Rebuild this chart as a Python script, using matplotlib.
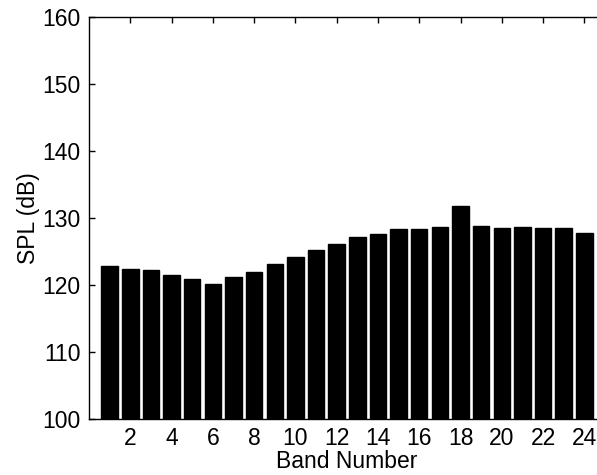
import matplotlib
matplotlib.use("Agg")
import matplotlib.pyplot as plt

plt.rcParams['font.family'] = ['Liberation Sans', 'DejaVu Sans']

# band number and SPL level
bands = list(range(1, 25))
spl = [122.8, 122.4, 122.2, 121.5, 120.9, 120.1, 121.2, 122.0, 123.1, 124.2,
       125.2, 126.1, 127.2, 127.6, 128.3, 128.3, 128.6, 131.8, 128.8, 128.5,
       128.6, 128.5, 128.5, 127.8]
xticks = list(range(2, 25, 2))
yticks = list(range(100, 161, 10))

W, H = 597, 475
fig = plt.figure(figsize=(W / 100, H / 100), dpi=100)
ax = fig.add_axes([89 / W, (H - 419) / H, 516 / W, 402 / H])

ax.bar(bands, [v - 100 for v in spl], bottom=100, width=0.8, color='black', edgecolor='black')

ax.set_xlim(0, 25)
ax.set_ylim(100, 160)
ax.set_xticks(xticks)
ax.set_yticks(yticks)
ax.tick_params(direction='in', top=True, right=True, length=4, width=1,
               labelsize=16.5, pad=6)
for s in ax.spines.values():
    s.set_linewidth(1)

ax.set_xlabel('Band Number', fontsize=16.5, labelpad=0)
ax.set_ylabel('SPL (dB)', fontsize=16.5, labelpad=1.5)

fig.savefig('out.png', dpi=100)
